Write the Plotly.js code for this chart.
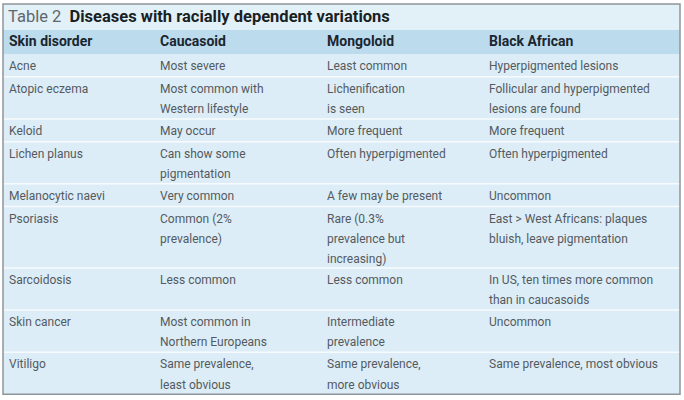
<!DOCTYPE html>
<html>
<head>
<meta charset="utf-8">
<script src="https://cdn.plot.ly/plotly-3.0.1.min.js"></script>
<style>
  html, body { margin: 0; padding: 0; background: #fff; }
  #chart { width: 684px; height: 400px; }
</style>
</head>
<body>
<div id="chart"></div>
<script>
/* Table 2 redrawn as text marks on a pixel-scaled Plotly axis. */

const tableNumber = "Table 2";
const tableTitle = "Diseases with racially dependent variations";
const columnHeaders = ["Skin disorder", "Caucasoid", "Mongoloid", "Black African"];

// "\n" marks the line breaks of the printed table
const disorders = [
  "Acne", "Atopic eczema", "Keloid", "Lichen planus", "Melanocytic naevi",
  "Psoriasis", "Sarcoidosis", "Skin cancer", "Vitiligo",
];
const caucasoid = [
  "Most severe",
  "Most common with\nWestern lifestyle",
  "May occur",
  "Can show some\npigmentation",
  "Very common",
  "Common (2%\nprevalence)",
  "Less common",
  "Most common in\nNorthern Europeans",
  "Same prevalence,\nleast obvious",
];
const mongoloid = [
  "Least common",
  "Lichenification\nis seen",
  "More frequent",
  "Often hyperpigmented",
  "A few may be present",
  "Rare (0.3%\nprevalence but\nincreasing)",
  "Less common",
  "Intermediate\nprevalence",
  "Same prevalence,\nmore obvious",
];
const blackAfrican = [
  "Hyperpigmented lesions",
  "Follicular and hyperpigmented\nlesions are found",
  "More frequent",
  "Often hyperpigmented",
  "Uncommon",
  "East > West Africans: plaques\nbluish, leave pigmentation",
  "In US, ten times more common\nthan in caucasoids",
  "Uncommon",
  "Same prevalence, most obvious",
];

// Geometry (pixels, the axes are 1 unit = 1 px)
const W = 684, H = 400;
const LEFT = 3, RIGHT = 680, TOP = 4;
const TITLE_H = 26, HEAD_H = 24;
const COL_X = [9, 160, 327, 489];
const ROW_PAD = 3.5, LINE_H = 19.3, LINE_PITCH = 20.3, FIRST_LINE = 13;

const FONT = "Roboto, 'Liberation Sans', sans-serif";
const BODY_COLOR = "#545a60";
const HEAD_COLOR = "#1b2630";

const columns = [disorders, caucasoid, mongoloid, blackAfrican];
const headTop = TOP + TITLE_H;
const bodyTop = headTop + HEAD_H;

// row tops from the number of lines in each row
const rowTops = [];
let y = bodyTop;
for (let r = 0; r < disorders.length; r++) {
  rowTops.push(y);
  const n = Math.max(...columns.map((c) => c[r].split("\n").length));
  y += ROW_PAD + LINE_H * n;
}
const bottom = y;

// one text point per printed line
const bx = [], by = [], bt = [];
columns.forEach((col, c) => {
  col.forEach((cell, r) => {
    cell.split("\n").forEach((line, i) => {
      bx.push(COL_X[c]);
      by.push(rowTops[r] + FIRST_LINE + LINE_PITCH * i);
      bt.push(line);
    });
  });
});

const traces = [
  {
    x: bx, y: by, text: bt,
    type: "scatter", mode: "text", textposition: "middle right",
    textfont: { family: FONT, size: 12, color: BODY_COLOR },
    hoverinfo: "skip", showlegend: false,
  },
  {
    x: COL_X, y: COL_X.map(() => headTop + HEAD_H / 2 + 0.5),
    text: columnHeaders.map((h) => "<b>" + h + "</b>"),
    type: "scatter", mode: "text", textposition: "middle right",
    textfont: { family: FONT, size: 14, color: HEAD_COLOR },
    hoverinfo: "skip", showlegend: false,
  },
  {
    x: [8], y: [TOP + TITLE_H / 2 + 1],
    text: ["<span style='color:#60666c'>" + tableNumber + "</span>  <b>" + tableTitle + "</b>"],
    type: "scatter", mode: "text", textposition: "middle right",
    textfont: { family: FONT, size: 16.5, color: "#1a1f24" },
    hoverinfo: "skip", showlegend: false,
  },
];

const shapes = [
  { type: "rect", layer: "below", x0: LEFT, x1: RIGHT, y0: TOP, y1: headTop, fillcolor: "#e2f1f8", line: { width: 0 } },
  { type: "rect", layer: "below", x0: LEFT, x1: RIGHT, y0: headTop, y1: bodyTop, fillcolor: "#bcdcee", line: { width: 0 } },
  { type: "rect", layer: "below", x0: LEFT, x1: RIGHT, y0: bodyTop, y1: bottom, fillcolor: "#dcedf7", line: { width: 0 } },
];
rowTops.slice(1).forEach((t) => {
  shapes.push({ type: "line", layer: "below", x0: LEFT, x1: RIGHT, y0: t, y1: t, line: { color: "#f7fbfd", width: 1.5 } });
});
shapes.push({ type: "rect", x0: LEFT, x1: RIGHT, y0: TOP, y1: bottom, line: { color: "#8e959b", width: 1.5 } });

const layout = {
  width: W, height: H,
  margin: { l: 0, r: 0, t: 0, b: 0 },
  paper_bgcolor: "#ffffff",
  plot_bgcolor: "#ffffff",
  xaxis: { range: [0, W], visible: false, fixedrange: true },
  yaxis: { range: [H, 0], visible: false, fixedrange: true },
  shapes,
  showlegend: false,
};

Plotly.newPlot("chart", traces, layout, { staticPlot: true, displayModeBar: false });
</script>
</body>
</html>
